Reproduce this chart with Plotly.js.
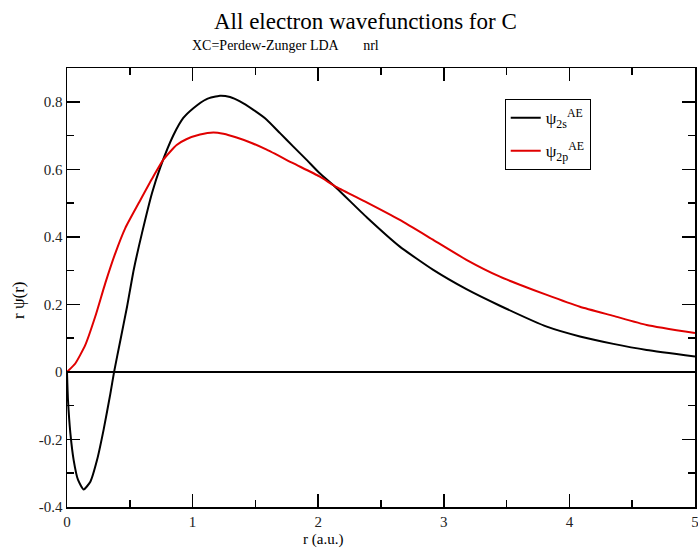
<!DOCTYPE html>
<html>
<head>
<meta charset="utf-8">
<script src="https://cdn.plot.ly/plotly-3.0.1.min.js"></script>
<style>html,body{margin:0;padding:0;background:#fff;}#chart{width:698px;height:548px;}</style>
</head>
<body>
<div id="chart"></div>
<script>
// Data
const r2s = [0, 0.008, 0.027, 0.053, 0.088, 0.133, 0.186, 0.239, 0.292, 0.345, 0.375, 0.425, 0.478, 0.531, 0.597, 0.677, 0.745, 0.846, 0.926, 1.006, 1.112, 1.218, 1.298, 1.377, 1.484, 1.59, 1.696, 1.80, 1.908, 2.01, 2.147, 2.386, 2.65, 2.916, 3.18, 3.447, 3.82, 4.084, 4.35, 4.615, 5.0];
const psi2s = [0, -0.084, -0.182, -0.261, -0.32, -0.348, -0.325, -0.261, -0.17, -0.065, 0, 0.094, 0.193, 0.302, 0.411, 0.53, 0.608, 0.700, 0.752, 0.781, 0.808, 0.818, 0.814, 0.801, 0.776, 0.747, 0.707, 0.668, 0.628, 0.589, 0.544, 0.458, 0.371, 0.302, 0.245, 0.196, 0.134, 0.105, 0.083, 0.065, 0.046];
const r2p = [0, 0.066, 0.146, 0.225, 0.305, 0.385, 0.464, 0.571, 0.677, 0.77, 0.873, 0.95, 1.059, 1.165, 1.245, 1.35, 1.47, 1.59, 1.80, 2.01, 2.147, 2.386, 2.65, 2.916, 3.18, 3.447, 3.82, 4.084, 4.35, 4.615, 5.0];
const psi2p = [0, 0.025, 0.080, 0.164, 0.263, 0.352, 0.426, 0.50, 0.572, 0.630, 0.672, 0.689, 0.703, 0.709, 0.705, 0.694, 0.678, 0.658, 0.618, 0.579, 0.547, 0.502, 0.45, 0.391, 0.332, 0.282, 0.228, 0.193, 0.166, 0.139, 0.115];
const names = ["ψ<sub>2s</sub><sup>AE</sup>", "ψ<sub>2p</sub><sup>AE</sup>"];
const yTickVals = [-0.4, -0.2, 0, 0.2, 0.4, 0.6, 0.8];
const yTickText = ["-0.4", "-0.2", "0", "0.2", "0.4", "0.6", "0.8"];
const titleText = "All electron wavefunctions for C";
const subtitleText = "XC=Perdew-Zunger LDA\u00A0\u00A0\u00A0\u00A0\u00A0\u00A0 nrl";
const xLabel = "r (a.u.)";
const yLabel = "r ψ(r)";

const serif = "Liberation Serif, DejaVu Serif, serif";

const traces = [
  {x: r2s, y: psi2s, name: names[0], legendgroup: "a", mode: "lines", line: {color: "#000000", width: 2, shape: "spline", smoothing: 0.5}},
  {x: r2p, y: psi2p, name: names[1], legendgroup: "b", mode: "lines", line: {color: "#e00000", width: 2, shape: "spline", smoothing: 0.5}}
];

const axisCommon = {
  showline: true, linecolor: "#000", linewidth: 1.5, mirror: "ticks",
  ticks: "inside", ticklen: 13, tickwidth: 1.5, tickcolor: "#000",
  showgrid: false,
  tickfont: {family: serif, size: 15, color: "#222"},
  ticklabeloverflow: "allow"
};

const layout = {
  width: 698, height: 548,
  margin: {l: 67, r: 3, t: 68, b: 41},
  paper_bgcolor: "#fff", plot_bgcolor: "#fff",
  showlegend: true,
  font: {family: serif},
  xaxis: Object.assign({}, axisCommon, {
    range: [0, 5], dtick: 1, tick0: 0, zeroline: false,
    minor: {dtick: 0.5, ticks: "inside", ticklen: 7, tickwidth: 1.5, tickcolor: "#000", showgrid: false}
  }),
  yaxis: Object.assign({}, axisCommon, {
    range: [-0.4, 0.9], tickmode: "array", tickvals: yTickVals, ticktext: yTickText, zeroline: true, zerolinecolor: "#000", zerolinewidth: 2,
    minor: {tickmode: "linear", tick0: 0, dtick: 0.1, ticks: "inside", ticklen: 7, tickwidth: 1.5, tickcolor: "#000", showgrid: false}
  }),
  legend: {
    x: 0.697, y: 0.929, xanchor: "left", yanchor: "top",
    bgcolor: "#fff", bordercolor: "#000", borderwidth: 1,
    font: {family: serif, size: 17, color: "#000"},
    itemwidth: 30, tracegroupgap: 8
  },
  annotations: [
    {text: titleText, xref: "paper", yref: "paper", x: 0.476, y: 1.105, xanchor: "center", yanchor: "middle", showarrow: false, font: {family: serif, size: 23, color: "#000"}},
    {text: subtitleText, xref: "paper", yref: "paper", x: 0.348, y: 1.052, xanchor: "center", yanchor: "middle", showarrow: false, font: {family: serif, size: 14, color: "#000"}},
    {text: xLabel, xref: "paper", yref: "paper", x: (323 - 67) / 628, y: (507 - 539) / 439, xanchor: "center", yanchor: "middle", showarrow: false, font: {family: serif, size: 15, color: "#000"}},
    {text: yLabel, xref: "paper", yref: "paper", x: (18 - 67) / 628, y: (507 - 300) / 439, xanchor: "center", yanchor: "middle", textangle: -90, showarrow: false, font: {family: serif, size: 17, color: "#000"}}
  ]
};

Plotly.newPlot("chart", traces, layout, {displayModeBar: false, staticPlot: true});
</script>
</body>
</html>
